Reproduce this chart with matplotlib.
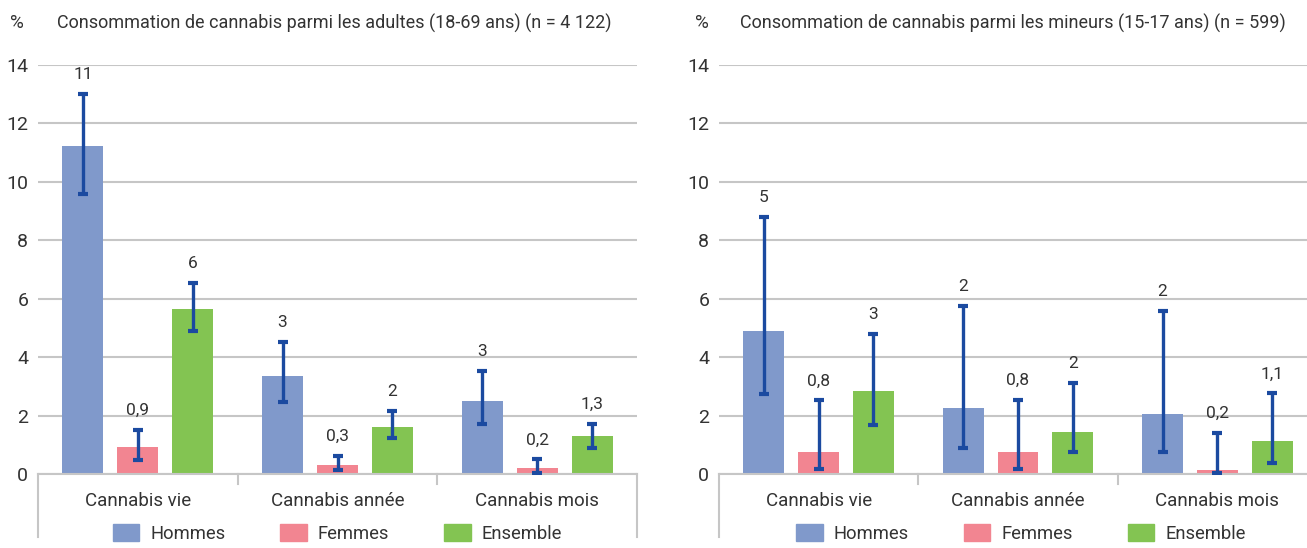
import matplotlib
matplotlib.use('Agg')
import matplotlib.pyplot as plt
import numpy as np

plt.rcParams['font.family'] = ['Roboto', 'DejaVu Sans']

categories = ['Cannabis vie', 'Cannabis année', 'Cannabis mois']
series = ['Hommes', 'Femmes', 'Ensemble']

# adultes 18-69 ans
adult_vals = [[11.23, 3.35, 2.49], [0.91, 0.30, 0.19], [5.64, 1.60, 1.30]]
adult_low = [[9.60, 2.47, 1.71], [0.48, 0.14, 0.02], [4.90, 1.24, 0.90]]
adult_high = [[13.00, 4.52, 3.53], [1.50, 0.63, 0.50], [6.55, 2.17, 1.71]]
adult_labels = [['11', '3', '3'], ['0,9', '0,3', '0,2'], ['6', '2', '1,3']]

# mineurs 15-17 ans
minor_vals = [[4.90, 2.26, 2.04], [0.75, 0.75, 0.14], [2.83, 1.43, 1.13]]
minor_low = [[2.75, 0.90, 0.76], [0.17, 0.17, 0.04], [1.69, 0.76, 0.39]]
minor_high = [[8.80, 5.76, 5.57], [2.52, 2.54, 1.40], [4.79, 3.13, 2.76]]
minor_labels = [['5', '2', '2'], ['0,8', '0,8', '0,2'], ['3', '2', '1,1']]

colors = ['#8099cb', '#f28591', '#83c452']
err_color = '#1b4aa0'
grid_color = '#c6c6c6'
text_color = '#333333'


def draw_panel(ax, vals, low, high, labels, title, title_x, pct_x):
    x = np.arange(len(categories))
    offsets = [-0.275, 0.0, 0.275]
    for i in range(len(series)):
        v = np.array(vals[i])
        yerr = [v - np.array(low[i]), np.array(high[i]) - v]
        ax.bar(x + offsets[i], v, width=0.205, color=colors[i], zorder=2)
        ax.errorbar(x + offsets[i], v, yerr=yerr, fmt='none', ecolor=err_color,
                    elinewidth=2.4, capsize=3.8, capthick=3, zorder=3)
        for j in range(len(categories)):
            ax.annotate(labels[i][j], (x[j] + offsets[i], high[i][j]),
                        xytext=(0, 14), textcoords='offset points',
                        ha='center', va='center', fontsize=12.5, color=text_color)
    ax.set_xlim(-0.5, 2.5)
    ax.set_ylim(0, 14)
    ax.set_yticks(range(0, 15, 2))
    ax.yaxis.grid(True, color=grid_color, linewidth=1.5, zorder=0)
    ax.set_axisbelow(True)
    for s in ['top', 'right', 'left']:
        ax.spines[s].set_visible(False)
    ax.spines['bottom'].set_color(grid_color)
    ax.spines['bottom'].set_linewidth(1.5)
    ax.tick_params(axis='y', length=0, labelsize=14, labelcolor=text_color, pad=7)
    ax.tick_params(axis='x', length=0, labelsize=13.5, labelcolor=text_color, pad=13)
    ax.set_xticks(x)
    ax.set_xticklabels(categories)
    # separators under the axis
    for k, xs in enumerate([-0.5, 0.5, 1.5, 2.5]):
        depth = -0.155 if k in (0, 3) else -0.025
        ax.plot([xs, xs], [0, depth], color=grid_color, linewidth=1.5,
                transform=ax.get_xaxis_transform(), clip_on=False)
    fig = ax.figure
    fig.text(pct_x, 0.958, '%', fontsize=13.5, color=text_color, va='center')
    fig.text(title_x, 0.958, title, fontsize=13, color=text_color, va='center')


fig = plt.figure(figsize=(13.07, 5.48), dpi=100)
ax1 = fig.add_axes([38 / 1307, 1 - 474 / 548, 599 / 1307, 409 / 548])
ax2 = fig.add_axes([719 / 1307, 1 - 474 / 548, 598 / 1307, 409 / 548])

draw_panel(ax1, adult_vals, adult_low, adult_high, adult_labels,
           'Consommation de cannabis parmi les adultes (18-69 ans) (n = 4 122)',
           57 / 1307, 10 / 1307)
draw_panel(ax2, minor_vals, minor_low, minor_high, minor_labels,
           'Consommation de cannabis parmi les mineurs (15-17 ans) (n = 599)',
           740 / 1307, 695 / 1307)

# legends below each panel
for ax, cx in ((ax1, 0.5), (ax2, 0.505)):
    handles = [plt.Rectangle((0, 0), 1, 1, color=c) for c in colors]
    ax.legend(handles, series, loc='lower center', bbox_to_anchor=(cx, -0.19),
              ncol=3, frameon=False, fontsize=13.2, handlelength=1.45,
              handleheight=1.1, columnspacing=3.0, handletextpad=0.6,
              labelcolor=text_color, borderpad=0.0)

fig.savefig('out.png', dpi=100)
